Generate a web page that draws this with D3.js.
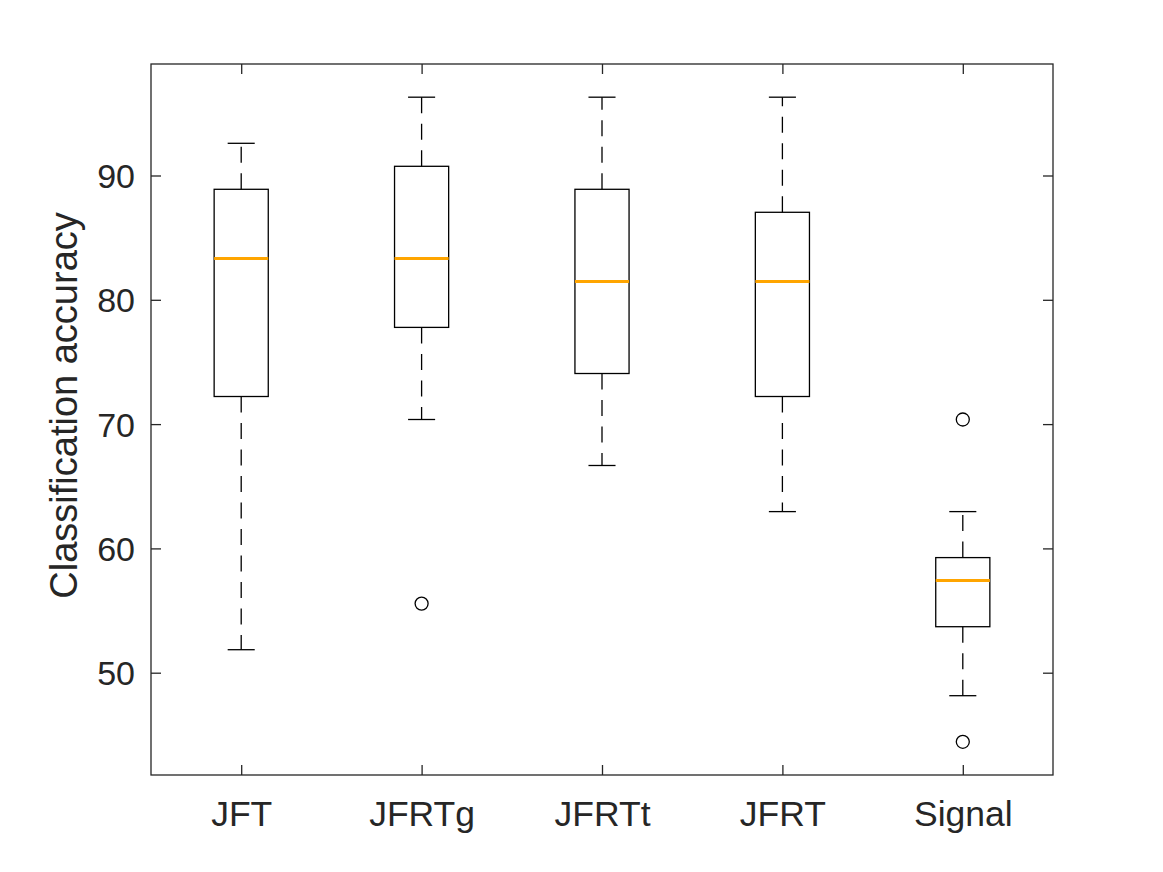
<!DOCTYPE html>
<html lang="en">
  <head>
    <meta charset="utf-8">
    <title>Classification accuracy</title>
    <script src="https://d3js.org/d3.v7.min.js"></script>
    <style>
      body { margin: 0; background: #fff; }
      text { font-family: "Liberation Sans", Arial, sans-serif; fill: #262626; }
    </style>
  </head>
  <body>
    <div id="my_dataviz"></div>

    <script>
      // data (box statistics per method)
      const categories  = ["JFT", "JFRTg", "JFRTt", "JFRT", "Signal"];
      const whiskerLow  = [51.85, 70.37, 66.67, 62.96, 48.15];
      const q1          = [72.22, 77.78, 74.07, 72.22, 53.70];
      const medians     = [83.33, 83.33, 81.48, 81.48, 57.41];
      const q3          = [88.89, 90.74, 88.89, 87.04, 59.26];
      const whiskerHigh = [92.59, 96.30, 96.30, 96.30, 62.96];
      const outliers    = [[], [55.56], [], [], [70.37, 44.44]];
      const yTicks      = [50, 60, 70, 80, 90];

      const data = categories.map((c, i) => ({
        name: c, pos: i + 1,
        lo: whiskerLow[i], q1: q1[i], med: medians[i], q3: q3[i], hi: whiskerHigh[i],
        out: outliers[i]
      }));

      // set the dimensions and margins of the graph
      const margin = {top: 64, right: 110, bottom: 97, left: 151},
          width = 1163 - margin.left - margin.right,
          height = 872 - margin.top - margin.bottom;

      const svg = d3.select("#my_dataviz")
        .append("svg")
          .attr("width", 1163)
          .attr("height", 872)
        .append("g")
          .attr("transform", `translate(${margin.left},${margin.top})`);

      const x = d3.scaleLinear().domain([0.5, categories.length + 0.5]).range([0, width]);
      const y = d3.scaleLinear().domain([41.77, 98.97]).range([height, 0]);

      const axisColor = "#262626";

      // axes, ticks pointing inwards like matlab
      const xAxis = svg.append("g")
        .attr("transform", `translate(0,${height})`)
        .call(d3.axisBottom(x).tickValues(data.map(d => d.pos))
          .tickFormat((d, i) => categories[i])
          .tickSizeInner(-10).tickSizeOuter(0).tickPadding(26));
      svg.append("g")
        .call(d3.axisTop(x).tickValues(data.map(d => d.pos))
          .tickFormat("").tickSizeInner(-10).tickSizeOuter(0));

      const yAxis = svg.append("g")
        .call(d3.axisLeft(y).tickValues(yTicks)
          .tickSizeInner(-10).tickSizeOuter(0).tickPadding(16));
      svg.append("g")
        .attr("transform", `translate(${width},0)`)
        .call(d3.axisRight(y).tickValues(yTicks)
          .tickFormat("").tickSizeInner(-10).tickSizeOuter(0));

      svg.selectAll(".domain").remove();
      svg.selectAll(".tick line").attr("stroke", axisColor).attr("stroke-width", 1.3);
      yAxis.selectAll(".tick text").style("font-size", "34px").attr("fill", axisColor).attr("dy", "0.35em");
      xAxis.selectAll(".tick text").style("font-size", "35.5px").attr("fill", axisColor).attr("dy", "0.71em");

      // the box round the plot area
      svg.append("rect")
        .attr("width", width).attr("height", height)
        .attr("fill", "none")
        .attr("stroke", axisColor)
        .attr("stroke-width", 1.3);

      // y label
      svg.append("text")
        .attr("transform", `translate(${77 - margin.left},${y(71.5)}) rotate(-90)`)
        .attr("text-anchor", "middle")
        .style("font-size", "38px")
        .text("Classification accuracy");

      const boxHalf = (x(1.3) - x(1)) / 2;   // box width 0.3
      const capHalf = boxHalf / 2;

      const groups = svg.selectAll(".box").data(data).join("g").attr("class", "box");

      // whiskers (dashed, drawn from box outwards)
      groups.append("line")
        .attr("x1", d => x(d.pos)).attr("x2", d => x(d.pos))
        .attr("y1", d => y(d.q3)).attr("y2", d => y(d.hi))
        .attr("stroke", "#000").attr("stroke-width", 1.3)
        .attr("stroke-dasharray", "16,10.5");
      groups.append("line")
        .attr("x1", d => x(d.pos)).attr("x2", d => x(d.pos))
        .attr("y1", d => y(d.q1)).attr("y2", d => y(d.lo))
        .attr("stroke", "#000").attr("stroke-width", 1.3)
        .attr("stroke-dasharray", "16,10.5");

      // caps
      groups.selectAll(".cap").data(d => [d.lo, d.hi].map(v => ({pos: d.pos, v: v})))
        .join("line").attr("class", "cap")
        .attr("x1", d => x(d.pos) - capHalf).attr("x2", d => x(d.pos) + capHalf)
        .attr("y1", d => y(d.v)).attr("y2", d => y(d.v))
        .attr("stroke", "#000").attr("stroke-width", 1.3);

      // boxes
      groups.append("rect")
        .attr("x", d => x(d.pos) - boxHalf)
        .attr("y", d => y(d.q3))
        .attr("width", boxHalf * 2)
        .attr("height", d => y(d.q1) - y(d.q3))
        .attr("fill", "none")
        .attr("stroke", "#000").attr("stroke-width", 1.3);

      // medians
      groups.append("line")
        .attr("x1", d => x(d.pos) - boxHalf).attr("x2", d => x(d.pos) + boxHalf)
        .attr("y1", d => y(d.med)).attr("y2", d => y(d.med))
        .attr("stroke", "#FFA500").attr("stroke-width", 3);

      // outliers
      groups.selectAll(".outlier").data(d => d.out.map(v => ({pos: d.pos, v: v})))
        .join("circle").attr("class", "outlier")
        .attr("cx", d => x(d.pos)).attr("cy", d => y(d.v))
        .attr("r", 6.5)
        .attr("fill", "none")
        .attr("stroke", "#000").attr("stroke-width", 1.3);
    </script>
  </body>
</html>
